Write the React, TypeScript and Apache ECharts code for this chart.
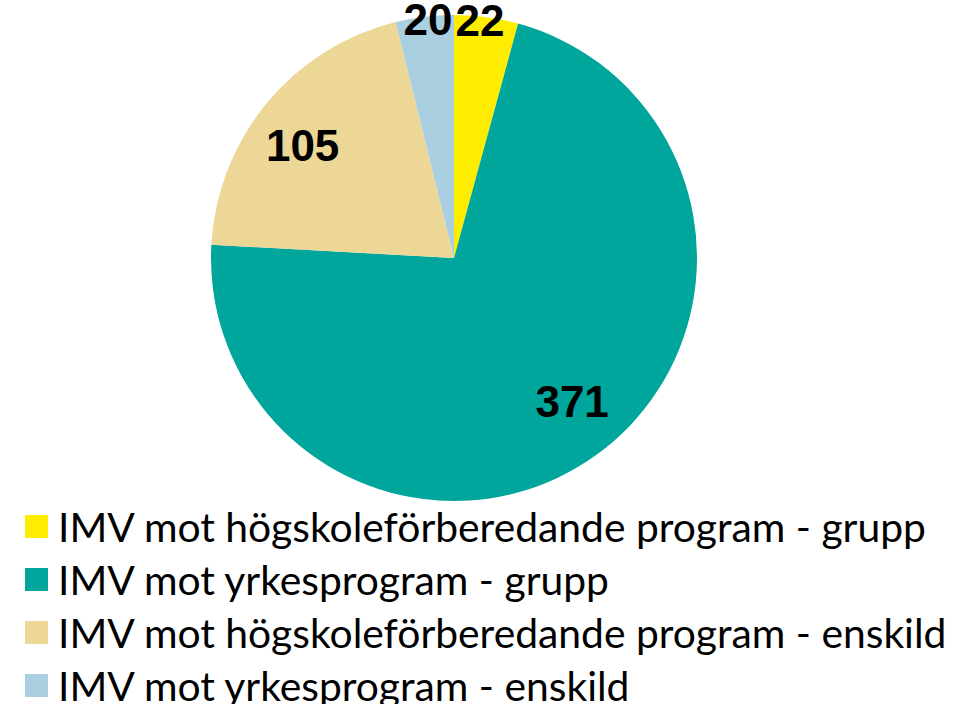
import React, { useEffect, useRef } from "react";
import * as echarts from "echarts";

const categories = [
  "IMV mot högskoleförberedande program - grupp",
  "IMV mot yrkesprogram - grupp",
  "IMV mot högskoleförberedande program - enskild",
  "IMV mot yrkesprogram - enskild",
];
const values = [22, 371, 105, 20];
const colors = ["#FFED00", "#00A59B", "#EDD796", "#AACFE0"];
// which slices carry their label near the rim (small ones) vs. deeper inside
const rimLabel = [true, false, false, true];
// small nudges of each label [dx, dy]
const labelOffset = [
  [-6, 0],
  [7, -11],
  [-5, 9],
  [3, 0],
];

export default function App() {
  const ref = useRef<HTMLDivElement>(null);
  useEffect(() => {
    if (!ref.current) return;
    const chart = echarts.init(ref.current, null, { renderer: "svg" });
    const center = [454, 258];
    const R = 243;
    const labelStyle = {
      color: "#000",
      fontFamily: "Liberation Sans",
      fontWeight: "bold" as const,
      fontSize: 44,
      lineHeight: 38,
    };
    const mainData = categories.map((name, i) => ({
      name,
      value: values[i],
      itemStyle: { color: colors[i] },
    }));
    const labelData = (rim: boolean) =>
      categories.map((name, i) => ({
        name,
        value: values[i],
        itemStyle: { color: "rgba(0,0,0,0)" },
        label: { show: rimLabel[i] === rim, offset: labelOffset[i] },
      }));
    chart.setOption({
      animation: false,
      legend: {
        orient: "vertical",
        left: 25,
        top: 506,
        height: 230,
        padding: 0,
        itemWidth: 23,
        itemHeight: 23,
        itemGap: 12,
        icon: "rect",
        data: categories,
        textStyle: {
          color: "#000",
          fontFamily: "Lato",
          fontSize: 40.8,
          lineHeight: 30,
          padding: [0, 0, 0, 5],
        },
      },
      series: [
        {
          type: "pie",
          center,
          radius: [0, R],
          startAngle: 90,
          clockwise: true,
          label: { show: false },
          labelLine: { show: false },
          emphasis: { disabled: true },
          data: mainData,
        },
        {
          type: "pie",
          center,
          radius: [131, R],
          startAngle: 90,
          silent: true,
          label: { position: "inside", formatter: "{c}", ...labelStyle },
          labelLine: { show: false },
          emphasis: { disabled: true },
          data: labelData(false),
          z: 3,
        },
        {
          type: "pie",
          center,
          radius: [231, R],
          startAngle: 90,
          silent: true,
          label: { position: "inside", formatter: "{c}", ...labelStyle },
          labelLine: { show: false },
          emphasis: { disabled: true },
          data: labelData(true),
          z: 3,
        },
      ],
    });
    return () => chart.dispose();
  }, []);
  return (
    <div
      ref={ref}
      style={{ position: "fixed", left: 0, top: 0, width: 963, height: 704, background: "#fff" }}
    />
  );
}
